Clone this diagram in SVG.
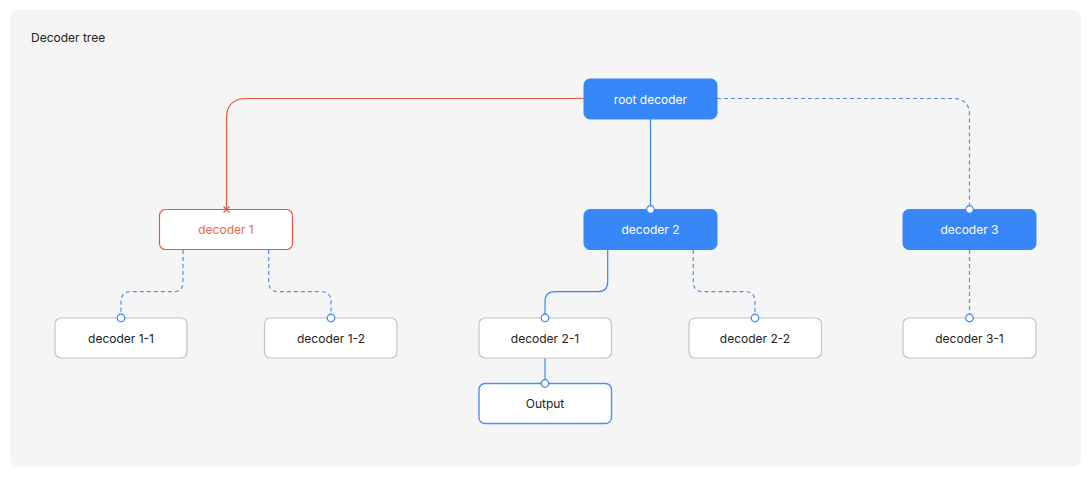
<svg xmlns="http://www.w3.org/2000/svg" width="1091" height="478" viewBox="0 0 1091 478">
<style>
.t{font-family:Inter,"Noto Sans","Liberation Sans",sans-serif;font-size:12px;text-anchor:middle;dominant-baseline:central}
.wt{fill:#ffffff}
.dk{fill:#222222}
.blue{fill:#3887f8;stroke:#3887f8;stroke-width:1}
.gray{fill:#ffffff;stroke:#c4c4c4;stroke-width:1.2}
.c{fill:none;stroke-width:1.2}
.sb{stroke:#3887f8}
.db{stroke:#4a90f7;stroke-dasharray:4 3}
.r{stroke:#e9573f}
.dot{fill:#ffffff;stroke:#3887f8;stroke-width:1.2}
</style>
<defs>
<marker id="cir" viewBox="-5 -5 10 10" markerWidth="10" markerHeight="10" markerUnits="userSpaceOnUse" refX="0" refY="0" orient="auto">
<circle r="3.8" class="dot"/>
</marker>
<marker id="x" viewBox="-5 -5 10 10" markerWidth="10" markerHeight="10" markerUnits="userSpaceOnUse" refX="0" refY="0" orient="auto">
<path d="M-3,-3 L3,3 M-3,3 L3,-3" stroke="#e9573f" stroke-width="1.2" fill="none"/>
</marker>
</defs>
<rect x="10" y="10" width="1071" height="457" rx="8" fill="#f5f5f5"/>
<text x="31" y="37" style="font-family:Inter,'Noto Sans','Liberation Sans',sans-serif;font-size:12px;dominant-baseline:central" fill="#222222">Decoder tree</text>
<g id="root"><rect class="blue" x="584" y="79" width="133" height="40" rx="6"/><text class="t wt" x="650.5" y="99">root decoder</text></g>
<g id="d1"><rect x="159.5" y="209.5" width="133" height="40" rx="6" fill="#ffffff" stroke="#e9573f" stroke-width="1.2"/><text class="t" x="226" y="229.5" fill="#ec6a50">decoder 1</text></g>
<g id="d2"><rect class="blue" x="584" y="209.5" width="133" height="40" rx="6"/><text class="t wt" x="650.5" y="229.5">decoder 2</text></g>
<g id="d3"><rect class="blue" x="903" y="209.5" width="133" height="40" rx="6"/><text class="t wt" x="969.5" y="229.5">decoder 3</text></g>
<g id="d11"><rect class="gray" x="55" y="318" width="132" height="40" rx="6"/><text class="t dk" x="121" y="338">decoder 1-1</text></g>
<g id="d12"><rect class="gray" x="264.5" y="318" width="132.5" height="40" rx="6"/><text class="t dk" x="331" y="338">decoder 1-2</text></g>
<g id="d21"><rect class="gray" x="479" y="318" width="132.5" height="40" rx="6"/><text class="t dk" x="545" y="338">decoder 2-1</text></g>
<g id="d22"><rect class="gray" x="689" y="318" width="132.5" height="40" rx="6"/><text class="t dk" x="755" y="338">decoder 2-2</text></g>
<g id="d31"><rect class="gray" x="903" y="318" width="133" height="40" rx="6"/><text class="t dk" x="969.5" y="338">decoder 3-1</text></g>
<g id="out"><rect x="479" y="383.5" width="132.5" height="40" rx="6" fill="#ffffff" stroke="#4a90f7" stroke-width="1.4"/><text class="t dk" x="545" y="403.5">Output</text></g>
<g id="connectors">
<path class="c r" d="M584,98.5 H246.5 Q226.5,98.5 226.5,118.5 V209.5" marker-end="url(#x)"/>
<path class="c sb" d="M650.5,119 V209.5" marker-end="url(#cir)"/>
<path class="c db" d="M717,98.5 H953 Q969.5,98.5 969.5,115 V209.5" marker-end="url(#cir)"/>
<path class="c db" d="M183,250 V281.7 Q183,291.7 173,291.7 H131 Q121,291.7 121,301.7 V318" marker-end="url(#cir)"/>
<path class="c db" d="M268.7,250 V281.7 Q268.7,291.7 278.7,291.7 H321 Q331,291.7 331,301.7 V318" marker-end="url(#cir)"/>
<path class="c sb" d="M607.7,250 V281.7 Q607.7,291.7 597.7,291.7 H555 Q545,291.7 545,301.7 V318" marker-end="url(#cir)"/>
<path class="c db" d="M693.3,250 V281.7 Q693.3,291.7 703.3,291.7 H745 Q755,291.7 755,301.7 V318" marker-end="url(#cir)"/>
<path class="c sb" d="M545,358.5 V383.5" marker-end="url(#cir)"/>
<path class="c db" d="M969.5,250 V318" marker-end="url(#cir)"/>
</g>
</svg>
